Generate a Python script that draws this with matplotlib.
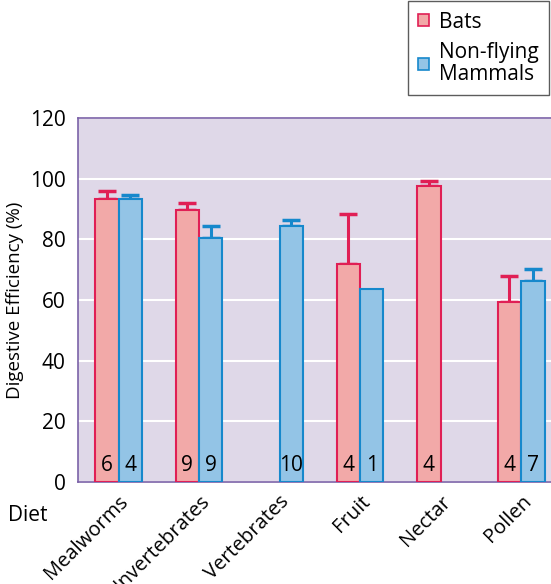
import numpy as np
import matplotlib.pyplot as plt
from matplotlib.patches import Patch

diets = ['Mealworms', 'Invertebrates', 'Vertebrates', 'Fruit', 'Nectar', 'Pollen']
bats = [93.3, 89.5, np.nan, 72, 97.5, 59.2]
bats_err = [2.5, 2.5, np.nan, 16.2, 1.6, 8.8]
bats_n = ['6', '9', '', '4', '4', '4']
mammals = [93.3, 80.3, 84.3, 63.5, np.nan, 66.2]
mammals_err = [1.2, 4.2, 1.9, np.nan, np.nan, 4.0]
mammals_n = ['4', '9', '10', '1', '', '7']

plt.rcParams['font.family'] = ['Open Sans', 'DejaVu Sans']

bat_fill, bat_edge = '#f2a9a8', '#e01f55'
mam_fill, mam_edge = '#93c4e6', '#1688cc'
fs = 15

fig = plt.figure(figsize=(5.51, 5.84), dpi=100)
ax = fig.add_axes([0.1416, 0.1747, 0.87, 0.6233])
ax.set_facecolor('#dfd8e8')

x = np.arange(len(diets))
w = 0.29

for i in x:
    if not np.isnan(bats[i]):
        ax.bar(i - w / 2, bats[i], w, color=bat_fill, edgecolor=bat_edge, lw=1.5, zorder=3)
        if not np.isnan(bats_err[i]):
            ax.errorbar(i - w / 2, bats[i], yerr=[[0], [bats_err[i]]], fmt='none',
                        ecolor=bat_edge, elinewidth=2.2, capsize=6.5, capthick=2.5, zorder=2)
        ax.text(i - w / 2, 5.5, bats_n[i], ha='center', va='center', fontsize=fs, zorder=4)
    if not np.isnan(mammals[i]):
        ax.bar(i + w / 2, mammals[i], w, color=mam_fill, edgecolor=mam_edge, lw=1.5, zorder=3)
        if not np.isnan(mammals_err[i]):
            ax.errorbar(i + w / 2, mammals[i], yerr=[[0], [mammals_err[i]]], fmt='none',
                        ecolor=mam_edge, elinewidth=2.2, capsize=6.5, capthick=2.5, zorder=2)
        ax.text(i + w / 2, 5.5, mammals_n[i], ha='center', va='center', fontsize=fs, zorder=4)

ax.set_xlim(-0.503, 5.45)
ax.set_ylim(0, 120)
ax.set_yticks(range(0, 121, 20))
ax.yaxis.grid(True, color='white', lw=1.5, zorder=0)
ax.set_axisbelow(True)
ax.tick_params(axis='both', length=0, labelsize=fs, pad=9)
ax.set_xticks(x)
ax.set_xticklabels(diets, rotation=45, ha='right', rotation_mode='anchor', fontsize=14.5)
ax.tick_params(axis='x', pad=7)
for s in ax.spines.values():
    s.set_color('#7b62a8')
    s.set_linewidth(1.2)

fig.text(0.027, 0.486, 'Digestive Efficiency (%)', fontsize=13.5, rotation=90,
         ha='center', va='center')
fig.text(0.014, 0.118, 'Diet', fontsize=fs, va='center')

# legend box
handles = [Patch(facecolor=bat_fill, edgecolor=bat_edge, lw=1.2),
           Patch(facecolor=mam_fill, edgecolor=mam_edge, lw=1.2)]
leg = fig.legend(handles, ['Bats', 'Non-flying\nMammals'], loc='upper right',
                 bbox_to_anchor=(0.997, 0.998), borderaxespad=0, fontsize=fs,
                 frameon=True, fancybox=False,
                 handlelength=0.5, handleheight=0.5, handletextpad=0.5, borderpad=0.5,
                 labelspacing=0.45)
leg.get_texts()[1].set_linespacing(1.05)
leg.get_frame().set_edgecolor('#333333')
leg.get_frame().set_linewidth(1.0)

fig.savefig('out.png', dpi=100)
